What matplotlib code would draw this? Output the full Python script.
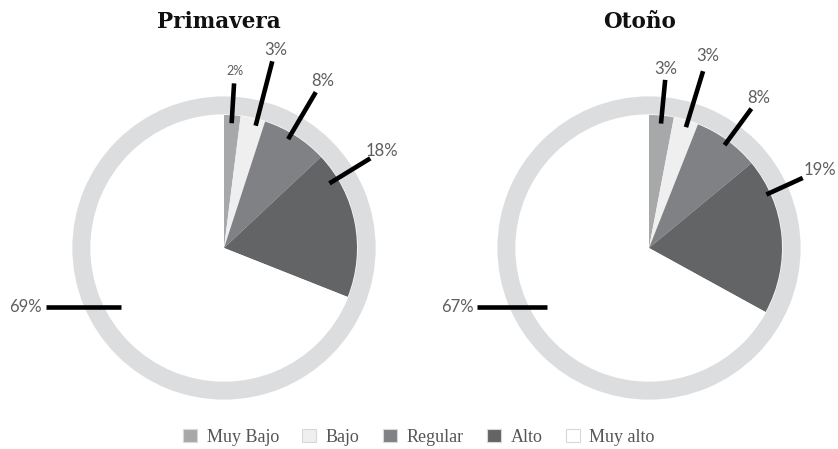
import numpy as np
import matplotlib.pyplot as plt
from matplotlib.patches import Patch

# datos
categorias = ["Muy Bajo", "Bajo", "Regular", "Alto", "Muy alto"]
primavera = [2, 3, 8, 18, 69]
otono = [3, 3, 8, 19, 67]
titulos = ["Primavera", "Otoño"]

colores = ["#a7a8aa", "#efeff0", "#808184", "#636466", "#ffffff"]
color_anillo = "#dcdddf"

# posicion de las lineas guia (angulo desde arriba, radio inicio, radio fin, radio texto)
guias_primavera = [(3.5, 0.94, 1.24, 1.33), (14.5, 0.95, 1.45, 1.54),
                   (30.5, 0.95, 1.36, 1.46), (58.5, 0.93, 1.29, 1.39)]
guias_otono = [(5.5, 0.94, 1.27, 1.35), (17.0, 0.95, 1.39, 1.51),
               (36.3, 0.96, 1.30, 1.40), (65.5, 0.97, 1.27, 1.41)]
# linea horizontal del segmento mayor (y, x inicio, x fin)
guia_mayor = [(-0.444, -1.338, -0.774), (-0.444, -1.29, -0.77)]

W, H = 838, 449
esc = 133.0  # pixeles por unidad de radio
centros = [224, 649]
desp_titulo = [-5, -9]

fig = plt.figure(figsize=(W / 100, H / 100), dpi=100)

for i, (vals, guias) in enumerate([(primavera, guias_primavera), (otono, guias_otono)]):
    x0 = i * W / 2
    ax = fig.add_axes([i * 0.5, 0, 0.5, 1])
    # anillo exterior
    ax.pie([1], radius=1.14, colors=[color_anillo], startangle=90,
           wedgeprops=dict(width=0.135, linewidth=0))
    ax.pie(vals, radius=1.0, colors=colores, startangle=90, counterclock=False,
           wedgeprops=dict(linewidth=0))
    cx = centros[i] - x0
    ax.set_xlim(-cx / esc, (W / 2 - cx) / esc)
    ax.set_ylim(-(H - 248) / esc, 248 / esc)
    ax.set_aspect("auto")
    ax.axis("off")

    for j, (ang, r0, r1, rt) in enumerate(guias):
        a = np.radians(ang)
        ax.plot([r0 * np.sin(a), r1 * np.sin(a)], [r0 * np.cos(a), r1 * np.cos(a)],
                color="black", lw=3.3, solid_capstyle="butt")
        tam = 9 if vals[j] == 2 else 12
        ax.text(rt * np.sin(a), rt * np.cos(a), f"{vals[j]}%", ha="center", va="center",
                fontsize=tam, color="#5e5e5e", family="Lato")

    gy, gx0, gx1 = guia_mayor[i]
    ax.plot([gx0, gx1], [gy, gy], color="black", lw=3.3, solid_capstyle="butt")
    ax.text(gx0 - 0.03, gy, f"{vals[4]}%", ha="right", va="center",
            fontsize=12, color="#5e5e5e", family="Lato")

    ax.text(desp_titulo[i] / esc, 226 / esc, titulos[i], ha="center", va="center",
            fontsize=15.5, fontweight="bold", family="DejaVu Serif", color="#111111")

# leyenda
handles = [Patch(facecolor=c, edgecolor="#d8d8d8", linewidth=0.8) for c in colores]
fig.legend(handles, categorias, loc="center", bbox_to_anchor=(0.5, 1 - 437 / H), ncol=5,
           frameon=False, handlelength=0.75, handleheight=0.75, handletextpad=0.55,
           columnspacing=1.3, prop=dict(family="Liberation Serif", size=13),
           labelcolor="#555555")

fig.savefig("out.png", dpi=100)
